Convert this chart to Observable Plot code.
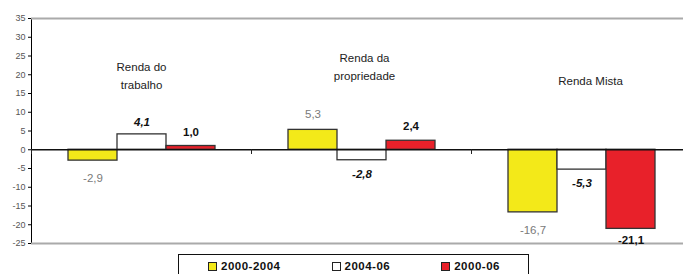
<!DOCTYPE html>
<html><head><meta charset="utf-8">
<script src="https://cdn.jsdelivr.net/npm/d3@7"></script>
<script src="https://cdn.jsdelivr.net/npm/@observablehq/plot@0.6"></script>
<style>
body{margin:0;overflow:hidden;background:#fff;font-family:"Liberation Sans",Arial,sans-serif;}
#wrap{width:683px;height:274px;overflow:hidden;position:relative;}
#chart svg{max-width:none !important;}
#legend{position:absolute;left:178px;top:254px;width:351px;height:30px;border:1px solid #111;box-sizing:border-box;display:flex;align-items:flex-start;gap:51px;padding-left:29px;padding-top:5px;font-weight:bold;font-size:11.5px;line-height:13px;letter-spacing:0.5px;color:#111;}
#legend .item{display:flex;align-items:center;}
#legend .sw{width:7px;height:7px;border:1px solid #222;margin-right:4px;}
</style></head><body>
<div id="wrap"><div id="chart"></div><div id="legend"></div></div>
<script>
const categories = ["Renda do trabalho", "Renda da propriedade", "Renda Mista"];
const categoryLabels = ["Renda do\ntrabalho", "Renda da\npropriedade", "Renda Mista"];
const series = ["2000-2004", "2004-06", "2000-06"];
const values2000_2004 = [-2.9, 5.3, -16.7];
const values2004_06 = [4.1, -2.8, -5.3];
const values2000_06 = [1.0, 2.4, -21.1];
const colors = ["#f3e919", "#ffffff", "#e8212a"];
const yTicks = [-25, -20, -15, -10, -5, 0, 5, 10, 15, 20, 25, 30, 35];

const seriesValues = [values2000_2004, values2004_06, values2000_06];
const data = [];
categories.forEach((c, i) => series.forEach((s, j) => data.push({category: c, series: s, value: seriesValues[j][i]})));
const fmt = v => d3.format(".1f")(v).replace(".", ",").replace("−", "-");

const FONT = '"Liberation Sans", Arial, sans-serif';
const labelStyles = {
  "2000-2004": {style: {fill: "#7a7a7a", fontWeight: "normal", fontStyle: "normal"}, dyPos: -16, dyNeg: 18},
  "2004-06": {style: {fill: "#111", fontWeight: "bold", fontStyle: "italic"}, dyPos: -12, dyNeg: 14},
  "2000-06": {style: {fill: "#111", fontWeight: "bold", fontStyle: "normal"}, dyPos: -14, dyNeg: 11}
};
const catLabelOffsets = [{dx: 0, dy: 39}, {dx: 3, dy: 30}, {dx: 9, dy: 53}];

const valueMarks = [];
series.forEach(s => {
  const st = labelStyles[s];
  valueMarks.push(Plot.text(data.filter(d => d.series === s && d.value >= 0), {
    fx: "category", x: "series", y: "value", text: d => fmt(d.value), dy: st.dyPos,
    fontSize: 11.5, fontFamily: FONT, letterSpacing: 0.6, ...st.style
  }));
  valueMarks.push(Plot.text(data.filter(d => d.series === s && d.value < 0), {
    fx: "category", x: "series", y: "value", text: d => fmt(d.value), dy: st.dyNeg,
    fontSize: 11.5, fontFamily: FONT, letterSpacing: 0.6, ...st.style
  }));
});

const catMarks = categories.map((c, i) => Plot.text([{category: c, label: categoryLabels[i]}], {
  fx: "category", text: "label", frameAnchor: "top", lineAnchor: "top",
  dx: catLabelOffsets[i].dx, dy: catLabelOffsets[i].dy, lineHeight: 1.6,
  fontSize: 11.5, fontFamily: FONT, fill: "#222", letterSpacing: 0.3
}));

const chart = Plot.plot({
  width: 692, height: 250,
  marginLeft: 30, marginRight: 0, marginTop: 18, marginBottom: 7,
  style: {fontFamily: FONT, fontSize: "9px", background: "transparent", overflow: "visible", maxWidth: "none"},
  fx: {domain: categories, padding: 0, axis: null},
  x: {domain: series, paddingInner: 0, paddingOuter: 0.73, axis: null},
  y: {domain: [-25, 35], ticks: yTicks, tickSize: 3, tickPadding: 3, line: true, label: null, tickFormat: d => String(d).replace("−", "-")},
  color: {domain: series, range: colors},
  marks: [
    Plot.ruleY([35], {stroke: "#aaa", strokeWidth: 2}),
    Plot.ruleY([-25], {stroke: "#aaa", strokeWidth: 2}),
    Plot.barY(data, {fx: "category", x: "series", y: "value", fill: "series", stroke: "#333", strokeWidth: 1.3}),
    Plot.ruleY([0], {stroke: "#111", strokeWidth: 1.5}),
    Plot.frame({anchor: "left", stroke: "#222", strokeWidth: 1, insetTop: 131, insetBottom: 90}),
    ...valueMarks,
    ...catMarks
  ]
});
chart.querySelectorAll('[aria-label="y-axis tick label"] text, [aria-label="y-axis tick label"]').forEach(e => e.setAttribute("fill", "#555"));
document.getElementById("chart").appendChild(chart);

const legend = document.getElementById("legend");
series.forEach((s, i) => {
  const item = document.createElement("div");
  item.className = "item";
  const sw = document.createElement("span");
  sw.className = "sw";
  sw.style.background = colors[i];
  const t = document.createElement("span");
  t.textContent = s;
  item.appendChild(sw); item.appendChild(t);
  legend.appendChild(item);
});
</script>
</body></html>
